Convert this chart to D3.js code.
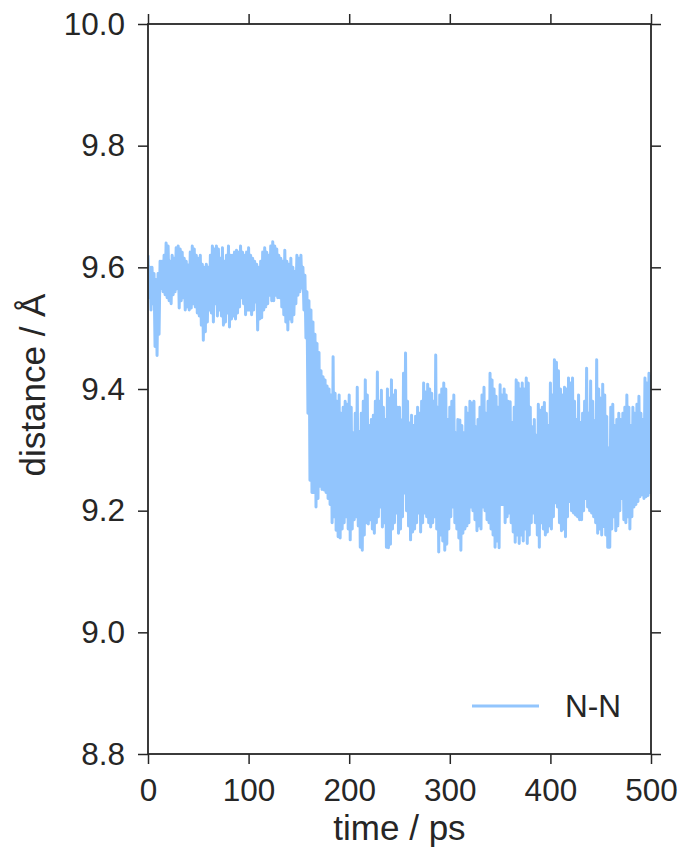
<!DOCTYPE html>
<html>
<head>
<meta charset="utf-8">
<script src="https://cdn.jsdelivr.net/npm/d3@7"></script>
<style>
  html, body { margin: 0; padding: 0; background: #ffffff; }
  svg { display: block; }
  text { font-family: "Liberation Sans", Arial, sans-serif; fill: #262626; }
</style>
</head>
<body>
<svg id="chart" width="682" height="851"></svg>
<script>
// N-N distance (Å), sampled every 1 ps from 0 to 500 ps
const distance = [
  9.62, 9.55, 9.60, 9.53, 9.60, 9.54, 9.59, 9.47, 9.58, 9.455,
  9.59, 9.49, 9.61, 9.565, 9.61, 9.56, 9.62, 9.555, 9.64, 9.55,
  9.635, 9.545, 9.61, 9.54, 9.62, 9.555, 9.615, 9.56, 9.632, 9.565,
  9.635, 9.533, 9.63, 9.545, 9.625, 9.55, 9.615, 9.53, 9.61, 9.535,
  9.604, 9.53, 9.625, 9.533, 9.635, 9.54, 9.63, 9.535, 9.62, 9.525,
  9.615, 9.52, 9.62, 9.505, 9.605, 9.48, 9.60, 9.494, 9.605, 9.51,
  9.60, 9.53, 9.62, 9.525, 9.635, 9.51, 9.63, 9.54, 9.635, 9.52,
  9.63, 9.53, 9.615, 9.52, 9.632, 9.505, 9.61, 9.51, 9.62, 9.525,
  9.635, 9.502, 9.62, 9.515, 9.62, 9.52, 9.625, 9.515, 9.628, 9.525,
  9.625, 9.535, 9.635, 9.55, 9.625, 9.54, 9.62, 9.522, 9.625, 9.53,
  9.632, 9.53, 9.62, 9.522, 9.615, 9.53, 9.61, 9.543, 9.605, 9.497,
  9.60, 9.515, 9.61, 9.517, 9.625, 9.53, 9.632, 9.535, 9.625, 9.54,
  9.62, 9.554, 9.635, 9.545, 9.642, 9.545, 9.635, 9.554, 9.63, 9.55,
  9.62, 9.55, 9.615, 9.535, 9.61, 9.522, 9.628, 9.51, 9.61, 9.497,
  9.605, 9.515, 9.615, 9.51, 9.60, 9.522, 9.593, 9.54, 9.62, 9.554,
  9.615, 9.56, 9.62, 9.566, 9.60, 9.53, 9.587, 9.484, 9.56, 9.36,
  9.545, 9.25, 9.53, 9.23, 9.51, 9.23, 9.49, 9.206, 9.475, 9.22,
  9.46, 9.24, 9.43, 9.235, 9.42, 9.234, 9.415, 9.23, 9.405, 9.22,
  9.40, 9.21, 9.39, 9.18, 9.453, 9.19, 9.393, 9.168, 9.38, 9.157,
  9.39, 9.155, 9.36, 9.17, 9.37, 9.18, 9.38, 9.19, 9.375, 9.17,
  9.39, 9.152, 9.37, 9.17, 9.328, 9.185, 9.36, 9.19, 9.403, 9.175,
  9.33, 9.14, 9.36, 9.135, 9.38, 9.16, 9.415, 9.18, 9.39, 9.178,
  9.34, 9.185, 9.35, 9.17, 9.357, 9.163, 9.38, 9.18, 9.428, 9.19,
  9.38, 9.206, 9.398, 9.173, 9.37, 9.18, 9.35, 9.14, 9.40, 9.139,
  9.385, 9.145, 9.415, 9.17, 9.39, 9.18, 9.398, 9.196, 9.37, 9.163,
  9.37, 9.17, 9.349, 9.19, 9.426, 9.229, 9.459, 9.20, 9.38, 9.175,
  9.344, 9.152, 9.357, 9.165, 9.34, 9.17, 9.355, 9.18, 9.37, 9.196,
  9.36, 9.165, 9.38, 9.18, 9.41, 9.196, 9.395, 9.19, 9.408, 9.18,
  9.40, 9.173, 9.393, 9.18, 9.38, 9.19, 9.456, 9.17, 9.37, 9.132,
  9.39, 9.16, 9.40, 9.15, 9.41, 9.135, 9.40, 9.145, 9.35, 9.17,
  9.37, 9.19, 9.38, 9.206, 9.39, 9.18, 9.328, 9.17, 9.35, 9.155,
  9.349, 9.135, 9.34, 9.163, 9.328, 9.17, 9.37, 9.175, 9.36, 9.18,
  9.38, 9.206, 9.377, 9.20, 9.38, 9.185, 9.338, 9.167, 9.35, 9.175,
  9.37, 9.17, 9.39, 9.206, 9.403, 9.20, 9.36, 9.185, 9.38, 9.18,
  9.426, 9.17, 9.415, 9.16, 9.40, 9.14, 9.388, 9.15, 9.37, 9.139,
  9.407, 9.21, 9.39, 9.21, 9.40, 9.18, 9.39, 9.19, 9.38, 9.196,
  9.379, 9.18, 9.345, 9.165, 9.37, 9.148, 9.415, 9.16, 9.41, 9.146,
  9.40, 9.16, 9.41, 9.15, 9.40, 9.17, 9.418, 9.146, 9.41, 9.16,
  9.37, 9.18, 9.338, 9.196, 9.35, 9.18, 9.324, 9.16, 9.375, 9.14,
  9.365, 9.18, 9.37, 9.17, 9.378, 9.16, 9.36, 9.165, 9.34, 9.175,
  9.41, 9.17, 9.39, 9.19, 9.448, 9.213, 9.444, 9.206, 9.43, 9.18,
  9.40, 9.167, 9.39, 9.17, 9.403, 9.157, 9.40, 9.19, 9.418, 9.215,
  9.41, 9.20, 9.418, 9.196, 9.38, 9.193, 9.35, 9.19, 9.39, 9.185,
  9.345, 9.185, 9.36, 9.20, 9.38, 9.22, 9.434, 9.206, 9.36, 9.20,
  9.413, 9.196, 9.38, 9.19, 9.348, 9.18, 9.448, 9.163, 9.40, 9.17,
  9.385, 9.16, 9.408, 9.174, 9.39, 9.16, 9.355, 9.14, 9.303, 9.14,
  9.37, 9.17, 9.375, 9.19, 9.34, 9.167, 9.35, 9.175, 9.36, 9.20,
  9.35, 9.22, 9.36, 9.185, 9.37, 9.18, 9.39, 9.19, 9.37, 9.17,
  9.34, 9.19, 9.37, 9.206, 9.36, 9.21, 9.375, 9.215, 9.388, 9.223,
  9.36, 9.226, 9.35, 9.22, 9.418, 9.223, 9.41, 9.225, 9.426, 9.23,
  9.423
];
const timeStep = 1; // ps between samples

const timeTicks = [0, 100, 200, 300, 400, 500];
const distanceTicks = [8.8, 9.0, 9.2, 9.4, 9.6, 9.8, 10.0];
const seriesName = "N-N";

const lineColor = "#92c5fd";
const inkColor = "#262626";

const svg = d3.select("#chart");
const margin = { left: 148, right: 31, top: 24, bottom: 97 };
const W = 682, H = 851;
const x = d3.scaleLinear().domain([0, 500]).range([margin.left, W - margin.right]);
const y = d3.scaleLinear().domain([8.8, 10.0]).range([H - margin.bottom, margin.top]);

// data line, clipped to the axes box
svg.append("clipPath").attr("id", "plot-clip")
  .append("rect")
  .attr("x", x(0)).attr("y", y(10.0))
  .attr("width", x(500) - x(0)).attr("height", y(8.8) - y(10.0));

const line = d3.line()
  .x((d, i) => x(i * timeStep))
  .y(d => y(d));

svg.append("path")
  .datum(distance)
  .attr("clip-path", "url(#plot-clip)")
  .attr("fill", "none")
  .attr("stroke", lineColor)
  .attr("stroke-width", 3)
  .attr("stroke-linejoin", "round")
  .attr("stroke-linecap", "butt")
  .attr("d", line);

// axes: labelled on left and bottom, bare ticks on top and right
function styleAxis(g) {
  g.select(".domain").remove();
  g.selectAll(".tick line").attr("stroke", inkColor).attr("stroke-width", 1.5);
  g.selectAll(".tick text")
    .attr("fill", inkColor)
    .style("font-family", '"Liberation Sans", Arial, sans-serif')
    .style("font-size", "31.5px");
}

svg.append("g")
  .attr("transform", `translate(0,${y(8.8)})`)
  .call(d3.axisBottom(x).tickValues(timeTicks).tickSize(10).tickPadding(15).tickFormat(d3.format("d")))
  .call(styleAxis);

svg.append("g")
  .attr("transform", `translate(0,${y(10.0)})`)
  .call(d3.axisTop(x).tickValues(timeTicks).tickSize(10).tickFormat(""))
  .call(styleAxis);

svg.append("g")
  .attr("transform", `translate(${x(0)},0)`)
  .call(d3.axisLeft(y).tickValues(distanceTicks).tickSize(10).tickPadding(13).tickFormat(d3.format(".1f")))
  .call(styleAxis);

svg.append("g")
  .attr("transform", `translate(${x(500)},0)`)
  .call(d3.axisRight(y).tickValues(distanceTicks).tickSize(10).tickFormat(""))
  .call(styleAxis);

// axes frame
svg.append("rect")
  .attr("x", x(0)).attr("y", y(10.0))
  .attr("width", x(500) - x(0)).attr("height", y(8.8) - y(10.0))
  .attr("fill", "none")
  .attr("stroke", inkColor)
  .attr("stroke-width", 1.8);

// axis titles
svg.append("text")
  .attr("x", (x(0) + x(500)) / 2)
  .attr("y", 840)
  .attr("text-anchor", "middle")
  .style("font-size", "35px")
  .text("time / ps");

svg.append("text")
  .attr("transform", `translate(45,${(y(8.8) + y(10.0)) / 2 - 4}) rotate(-90)`)
  .attr("text-anchor", "middle")
  .style("font-size", "35px")
  .text("distance / Å");

// legend
const legend = svg.append("g");
legend.append("line")
  .attr("x1", 472).attr("x2", 539)
  .attr("y1", 706).attr("y2", 706)
  .attr("stroke", lineColor)
  .attr("stroke-width", 3);
legend.append("text")
  .attr("x", 565).attr("y", 717)
  .style("font-size", "31.5px")
  .text(seriesName);
</script>
</body>
</html>
